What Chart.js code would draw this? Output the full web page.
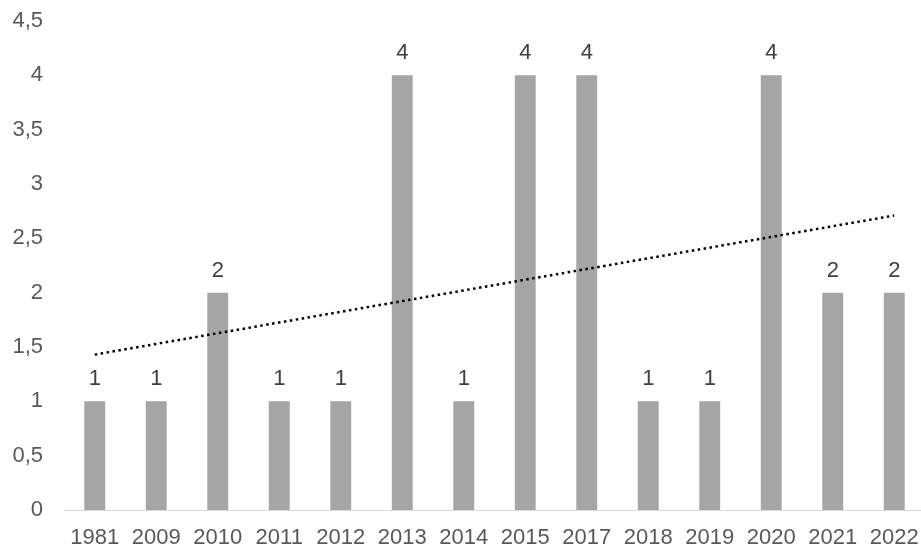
<!DOCTYPE html>
<html>
<head>
<meta charset="utf-8">
<script src="https://cdn.jsdelivr.net/npm/chart.js@4.4.0/dist/chart.umd.min.js"></script>
<style>
  html, body { margin: 0; padding: 0; background: #fff; overflow: hidden; }
  #wrap { width: 925px; height: 548px; }
</style>
</head>
<body>
<div id="wrap"><canvas id="chart" width="925" height="548"></canvas></div>
<script>
// Chart data
const years = ['1981', '2009', '2010', '2011', '2012', '2013', '2014', '2015', '2017', '2018', '2019', '2020', '2021', '2022'];
const counts = [1, 1, 2, 1, 1, 4, 1, 4, 4, 1, 1, 4, 2, 2];
// Trend line end points (straight line between them)
const trend = [1.43, null, null, null, null, null, null, null, null, null, null, null, null, 2.71];
const yTicks = [0, 0.5, 1, 1.5, 2, 2.5, 3, 3.5, 4, 4.5];

const FONT = "'Liberation Sans', Arial, sans-serif";

// Simple plugin to write the values above the bars
const barLabels = {
    id: 'barLabels',
    afterDatasetsDraw(chart) {
        const ctx = chart.ctx;
        const meta = chart.getDatasetMeta(1);
        ctx.save();
        ctx.font = '22px ' + FONT;
        ctx.fillStyle = '#404040';
        ctx.textAlign = 'center';
        ctx.textBaseline = 'alphabetic';
        meta.data.forEach((bar, i) => {
            ctx.fillText(String(counts[i]), bar.x, bar.y - 16);
        });
        ctx.restore();
    }
};

const ctx = document.getElementById('chart').getContext('2d');
new Chart(ctx, {
    data: {
        labels: years,
        datasets: [
            {
                type: 'line',
                data: trend,
                borderColor: '#000000',
                borderWidth: 2.5,
                borderDash: [2.5, 3.5],
                pointRadius: 0,
                spanGaps: true,
                fill: false,
                order: 0
            },
            {
                type: 'bar',
                data: counts,
                backgroundColor: '#a5a5a5',
                categoryPercentage: 1,
                barPercentage: 0.34,
                order: 1
            }
        ]
    },
    options: {
        responsive: false,
        animation: false,
        layout: { padding: 0 },
        plugins: {
            legend: { display: false },
            tooltip: { enabled: false }
        },
        scales: {
            x: {
                grid: { display: false, drawTicks: false },
                border: { display: true, color: '#d9d9d9', width: 1 },
                ticks: {
                    color: '#595959',
                    font: { family: FONT, size: 22 },
                    maxRotation: 0,
                    autoSkip: false,
                    padding: 15
                },
                afterFit(axis) {
                    axis.height = 38;
                    axis.paddingLeft = 0;
                    axis.paddingRight = 0;
                }
            },
            y: {
                min: 0,
                max: 4.5,
                afterBuildTicks(axis) {
                    axis.ticks = yTicks.map(v => ({ value: v }));
                },
                grid: { display: false, drawTicks: false },
                border: { display: false },
                ticks: {
                    color: '#595959',
                    font: { family: FONT, size: 22 },
                    padding: 21,
                    callback: v => String(v).replace('.', ',')
                },
                afterFit(axis) {
                    axis.width = 64;
                    axis.paddingTop = 21;
                    axis.paddingBottom = 0;
                }
            }
        }
    },
    plugins: [barLabels]
});
</script>
</body>
</html>
